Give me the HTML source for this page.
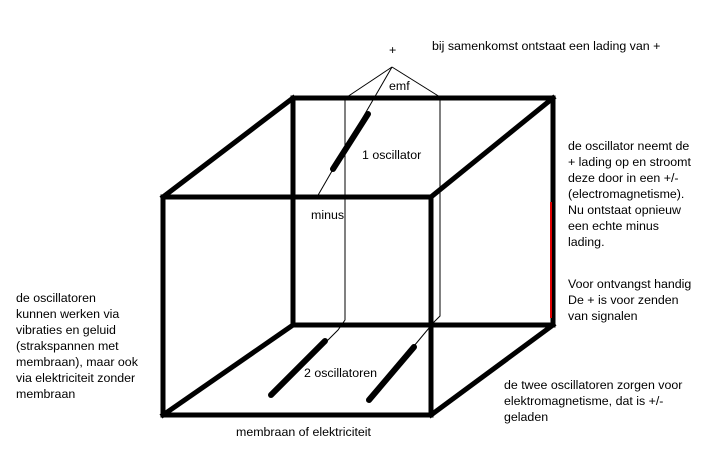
<!DOCTYPE html>
<html><head><meta charset="utf-8"><style>
body{margin:0;background:#fff;width:726px;height:449px;overflow:hidden;position:relative;font-family:"Liberation Sans",sans-serif;font-size:12.4px;color:#000}
.t{position:absolute;line-height:16px;white-space:nowrap}
svg{position:absolute;left:0;top:0}
</style></head><body>
<svg width="726" height="449">
<g stroke="#000" stroke-width="5" fill="none" stroke-linecap="square">
<rect x="293" y="98" width="260" height="227"/>
<rect x="163" y="197" width="268" height="218"/>
<line x1="163" y1="197" x2="293" y2="98"/>
<line x1="431" y1="197" x2="553" y2="98"/>
<line x1="163" y1="415" x2="293" y2="325"/>
<line x1="431" y1="415" x2="553" y2="325"/>
</g>
<line x1="551" y1="202" x2="551" y2="318" stroke="#e00000" stroke-width="2"/>
<g stroke="#000" stroke-width="1" fill="none">
<line x1="392" y1="67" x2="347" y2="97"/>
<line x1="392" y1="67" x2="440" y2="97"/>
<line x1="392" y1="67" x2="317" y2="197"/>
<polyline points="345,98 345,320 338,330 326,342"/>
<polyline points="440,98 440,316 434,322 414,346"/>
</g>
<g stroke="#000" stroke-width="6" stroke-linecap="round">
<line x1="368" y1="114" x2="333" y2="169"/>
<line x1="325" y1="341" x2="271" y2="395"/>
<line x1="414" y1="347" x2="369" y2="400"/>
</g>
</svg>
<div class="t" style="left:389px;top:42px">+</div>
<div class="t" style="left:432px;top:38px">bij samenkomst ontstaat een lading van +</div>
<div class="t" style="left:389px;top:78px">emf</div>
<div class="t" style="left:362px;top:147px">1 oscillator</div>
<div class="t" style="left:311px;top:207px">minus</div>
<div class="t" style="left:304px;top:365px">2 oscillatoren</div>
<div class="t" style="left:236px;top:424px">membraan of elektriciteit</div>
<div class="t" style="left:568px;top:138px">de oscillator neemt de<br>+ lading op en stroomt<br>deze door in een +/-<br>(electromagnetisme).<br>Nu ontstaat opnieuw<br>een echte minus<br>lading.</div>
<div class="t" style="left:568px;top:276px">Voor ontvangst handig<br>De + is voor zenden<br>van signalen</div>
<div class="t" style="left:16px;top:290px">de oscillatoren<br>kunnen werken via<br>vibraties en geluid<br>(strakspannen met<br>membraan), maar ook<br>via elektriciteit zonder<br>membraan</div>
<div class="t" style="left:504px;top:377px">de twee oscillatoren zorgen voor<br>elektromagnetisme, dat is +/-<br>geladen</div>
</body></html>
